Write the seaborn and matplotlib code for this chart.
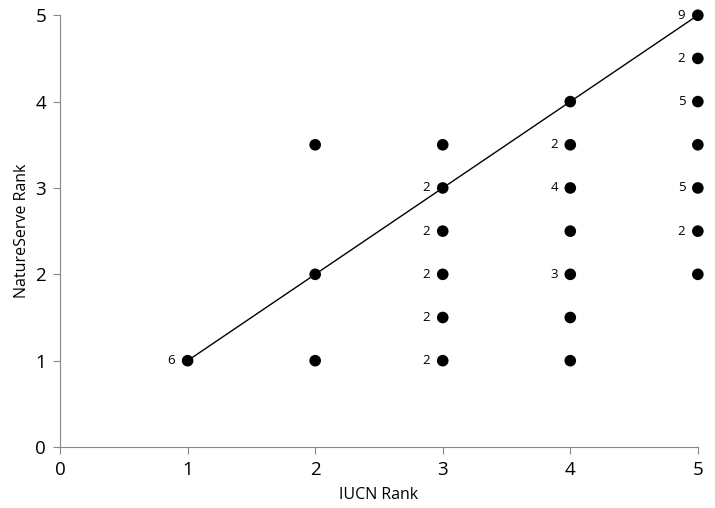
import matplotlib
matplotlib.use('Agg')
import matplotlib.pyplot as plt
import seaborn as sns
import pandas as pd

# IUCN rank vs NatureServe rank, with counts where more than one species
iucn = [1, 2, 2, 2, 3, 3, 3, 3, 3, 3, 4, 4, 4, 4, 4, 4, 4, 5, 5, 5, 5, 5, 5, 5]
natureserve = [1, 1, 2, 3.5, 1, 1.5, 2, 2.5, 3, 3.5, 1, 1.5, 2, 2.5, 3, 3.5, 4,
               2, 2.5, 3, 3.5, 4, 4.5, 5]
counts = [6, 1, 1, 1, 2, 2, 2, 2, 2, 1, 1, 1, 3, 1, 4, 2, 1,
          1, 2, 5, 1, 5, 2, 9]
line_x = [1, 5]
line_y = [1, 5]

data = pd.DataFrame({'IUCN Rank': iucn, 'NatureServe Rank': natureserve, 'n': counts})

sns.set_style('white')
plt.rcParams['font.family'] = ['Open Sans', 'DejaVu Sans']
plt.rcParams['text.color'] = 'black'
plt.rcParams['axes.labelcolor'] = 'black'
plt.rcParams['xtick.labelcolor'] = 'black'
plt.rcParams['ytick.labelcolor'] = 'black'

fig = plt.figure(figsize=(7.15, 5.08), dpi=100)
ax = fig.add_axes([0.084, 0.120, 0.892, 0.850])

ax.plot(line_x, line_y, color='black', linewidth=1, zorder=1)
sns.scatterplot(x='IUCN Rank', y='NatureServe Rank', data=data, ax=ax,
                color='black', s=70, edgecolor='none', zorder=2, clip_on=False)

for _, row in data.iterrows():
    if row['n'] > 1:
        ax.annotate(str(int(row['n'])), (row['IUCN Rank'], row['NatureServe Rank']),
                    xytext=(-9, 0), textcoords='offset points',
                    ha='right', va='center', fontsize=9.5)

ax.set_xlim(0, 5)
ax.set_ylim(0, 5)
ax.set_xticks(range(6))
ax.set_yticks(range(6))
ax.tick_params(axis='both', labelsize=13.5, direction='out', length=5, width=0.8,
               color='#888888', left=True, bottom=True, pad=5)
for side in ['top', 'right']:
    ax.spines[side].set_visible(False)
for side in ['left', 'bottom']:
    ax.spines[side].set_color('#888888')
    ax.spines[side].set_linewidth(0.8)

ax.set_xlabel('IUCN Rank', fontsize=11.5, labelpad=6)
ax.set_ylabel('NatureServe Rank', fontsize=11.5, labelpad=4)

fig.savefig('out.png', dpi=100)
